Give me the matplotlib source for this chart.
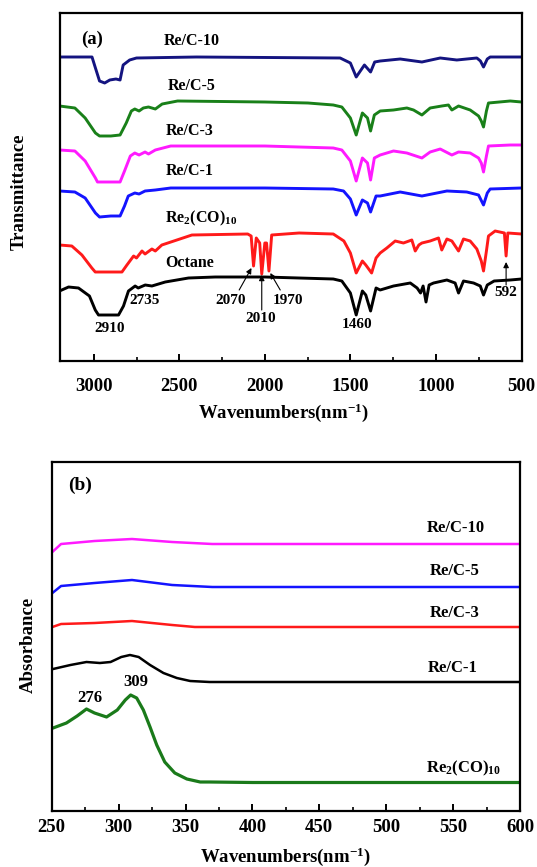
import matplotlib.pyplot as plt
from matplotlib.ticker import MultipleLocator

plt.rcParams['font.family'] = ['Liberation Serif', 'DejaVu Serif']
plt.rcParams['font.weight'] = 'bold'
plt.rcParams['mathtext.fontset'] = 'custom'
plt.rcParams['mathtext.rm'] = 'Liberation Serif:bold'
plt.rcParams['mathtext.it'] = 'Liberation Serif:bold'
plt.rcParams['mathtext.bf'] = 'Liberation Serif:bold'

# (a) FT-IR, transmittance in arbitrary units (already stacked)
rec10_wn = [3200, 3010, 2990, 2966, 2936, 2906, 2870, 2846, 2828, 2790, 2750, 2400,
            1560, 1500, 1466, 1418, 1382, 1358, 1326, 1209, 1082, 975, 878, 761, 740,
            722, 700, 683, 500]
rec10_t = [304, 304, 293, 280, 278, 281, 282, 281, 296, 301, 303, 304,
           303, 298, 284, 296, 289, 299, 300, 302, 299, 303, 301, 303, 300,
           294, 302, 304, 304]

rec5_wn = [3200, 3110, 3050, 2990, 2966, 2900, 2846, 2810, 2780, 2760, 2735, 2710, 2680,
           2640, 2600, 2510, 2000, 1748, 1600, 1550, 1500, 1466, 1430, 1400, 1382, 1360,
           1326, 1248, 1170, 1131, 1082, 1034, 966, 927, 907, 868, 800, 751, 735, 722,
           705, 693, 566, 500]
rec5_t = [255, 253, 243, 228, 225, 225, 226, 238, 250, 252, 250, 253, 254,
          252, 257, 260, 259, 258, 256, 254, 243, 226, 248, 243, 230, 246,
          250, 251, 253, 251, 246, 253, 255, 256, 251, 255, 251, 245, 240, 234,
          250, 258, 260, 259]

rec3_wn = [3200, 3110, 3050, 2990, 2978, 2846, 2820, 2786, 2760, 2735, 2700, 2680, 2640,
           2550, 2000, 1600, 1550, 1500, 1466, 1430, 1400, 1382, 1360, 1326, 1248, 1170,
           1082, 1034, 975, 907, 868, 800, 751, 735, 722, 705, 693, 566, 500]
rec3_t = [211, 210, 200, 183, 179, 179, 190, 205, 208, 206, 209, 207, 211,
          215, 215, 213, 211, 200, 180, 203, 198, 181, 203, 206, 210, 208,
          203, 209, 212, 206, 209, 208, 203, 198, 189, 205, 215, 216, 216]

rec1_wn = [3200, 3110, 3050, 2990, 2966, 2900, 2846, 2820, 2798, 2760, 2735, 2700, 2640,
           2550, 2000, 1600, 1540, 1500, 1466, 1430, 1400, 1382, 1350, 1326, 1209, 1082,
           936, 820, 751, 722, 700, 683, 500]
rec1_t = [170, 169, 163, 148, 144, 145, 145, 155, 165, 168, 167, 170, 171,
          173, 173, 172, 170, 162, 146, 161, 158, 149, 165, 165, 169, 165,
          170, 169, 166, 156, 168, 172, 173]

reco_wn = [3200, 3128, 3069, 3011, 2991, 2835, 2806, 2767, 2750, 2718, 2700, 2660, 2640,
           2602, 2426, 2100, 2080, 2066, 2050, 2030, 2018, 2000, 1990, 1976, 1960, 1800,
           1600, 1538, 1500, 1466, 1430, 1410, 1376, 1350, 1326, 1287, 1238, 1190, 1141,
           1121, 1100, 1082, 1034, 985, 966, 936, 907, 868, 839, 800, 761, 735, 722, 705,
           693, 654, 600, 590, 580, 500]
reco_t = [116, 115, 106, 93, 89, 89, 96, 105, 103, 110, 107, 112, 110,
          116, 126, 127, 125, 95, 123, 118, 87, 118, 118, 90, 126, 128,
          127, 120, 108, 88, 100, 96, 88, 103, 108, 113, 120, 118, 121,
          110, 116, 118, 120, 123, 111, 122, 120, 110, 122, 120, 112, 100, 90, 110,
          125, 130, 128, 105, 128, 127]

oct_wn = [3200, 3147, 3089, 3025, 2991, 2972, 2855, 2826, 2797, 2758, 2740, 2699, 2660,
          2582, 2446, 2290, 2000, 1600, 1550, 1500, 1466, 1430, 1410, 1382, 1350, 1326,
          1248, 1150, 1110, 1090, 1075, 1058, 1040, 1014, 936, 888, 868, 839, 780, 741,
          722, 700, 660, 566, 500]
oct_t = [70, 74, 73, 65, 51, 46, 46, 55, 70, 75, 73, 76, 75,
         79, 83, 84, 84, 82, 80, 68, 46, 70, 66, 50, 73, 71,
         75, 78, 73, 68, 75, 59, 76, 78, 81, 78, 68, 80, 78, 75,
         66, 76, 80, 81, 82]

# (b) UV-vis, absorbance in arbitrary units (already stacked)
uv10_nm = [250.5, 257, 282, 310, 340, 370, 600]
uv10_a = [259, 267, 270, 272, 269, 267, 267]
uv5_nm = [250.5, 257, 282, 310, 340, 370, 600]
uv5_a = [218, 225, 228, 231, 226, 224, 224]
uv3_nm = [250.5, 257, 282, 310, 340, 357, 600]
uv3_a = [184, 187, 188, 190, 186, 184, 184]
uv1_nm = [251, 264, 276, 286, 294, 302, 308.5, 315, 323.5, 333.5, 343.5, 353.5, 368, 600]
uv1_a = [142, 146, 149, 148, 149, 154, 156, 154, 146, 138, 133, 130, 129, 129]
uvco_nm = [251, 261, 269, 276, 282, 291, 299, 305, 309, 313.5, 318.5, 323.5, 328.5,
           334.5, 342, 351, 361, 368, 400, 600]
uvco_a = [83, 88, 95, 102, 98, 94, 101, 111, 116, 113, 101, 84, 66, 49, 38, 32, 29,
          29, 28.5, 28.5]

W, H = 537, 867
fig = plt.figure(figsize=(W / 100, H / 100), dpi=100)
fig.patch.set_facecolor('white')

# axes frames in pixels: left, top, right, bottom
fa = (59.5, 13, 521.5, 361)
fb = (51.7, 462, 520, 811)
ax1 = fig.add_axes([fa[0] / W, 1 - fa[3] / H, (fa[2] - fa[0]) / W, (fa[3] - fa[1]) / H])
ax2 = fig.add_axes([fb[0] / W, 1 - fb[3] / H, (fb[2] - fb[0]) / W, (fb[3] - fb[1]) / H])

lw_a = 2.1
ax1.plot(rec10_wn, rec10_t, color='#141480', lw=lw_a)
ax1.plot(rec5_wn, rec5_t, color='#198019', lw=lw_a)
ax1.plot(rec3_wn, rec3_t, color='#ff1aff', lw=lw_a)
ax1.plot(rec1_wn, rec1_t, color='#1414ff', lw=lw_a)
ax1.plot(reco_wn, reco_t, color='#ff1a1a', lw=lw_a)
ax1.plot(oct_wn, oct_t, color='black', lw=lw_a)

ax1.set_xlim(3200, 500)
ax1.set_ylim(0, fa[3] - fa[1])
ax1.xaxis.set_major_locator(MultipleLocator(500))
ax1.xaxis.set_minor_locator(MultipleLocator(250))

fs_lab = 11.5
ax1.text(3010, 322, '(a)', fontsize=13.5, ha='center', va='center')
ax1.text(2426, 320, 'Re/C-10', fontsize=fs_lab, ha='center', va='center')
ax1.text(2426, 275, 'Re/C-5', fontsize=fs_lab, ha='center', va='center')
ax1.text(2440, 230, 'Re/C-3', fontsize=fs_lab, ha='center', va='center')
ax1.text(2440, 190, 'Re/C-1', fontsize=fs_lab, ha='center', va='center')
ax1.text(2370, 143, r'Re$_{2}$(CO)$_{10}$', fontsize=fs_lab, ha='center', va='center')
ax1.text(2440, 98, 'Octane', fontsize=fs_lab, ha='center', va='center')

fs_num = 11
ax1.text(2906, 33, '2910', fontsize=fs_num, ha='center', va='center')
ax1.text(2700, 60, '2735', fontsize=fs_num, ha='center', va='center')
ax1.text(2200, 61, '2070', fontsize=fs_num, ha='center', va='center')
ax1.text(2022, 43, '2010', fontsize=fs_num, ha='center', va='center')
ax1.text(1862, 61, '1970', fontsize=fs_num, ha='center', va='center')
ax1.text(1460, 36, '1460', fontsize=fs_num, ha='center', va='center')
ax1.text(590, 68, '592', fontsize=fs_num, ha='center', va='center')

arrow = dict(arrowstyle='-|>', color='black', lw=0.8, mutation_scale=8,
             shrinkA=0, shrinkB=0)
ax1.annotate('', xy=(2078, 93), xytext=(2150, 71), arrowprops=arrow)
ax1.annotate('', xy=(2018, 86), xytext=(2018, 51), arrowprops=arrow)
ax1.annotate('', xy=(1968, 88), xytext=(1910, 71), arrowprops=arrow)
ax1.annotate('', xy=(590, 99), xytext=(590, 76), arrowprops=arrow)

ax2.plot(uv10_nm, uv10_a, color='#ff1aff', lw=1.8)
ax2.plot(uv5_nm, uv5_a, color='#1414ff', lw=1.8)
ax2.plot(uv3_nm, uv3_a, color='#ff1a1a', lw=1.8)
ax2.plot(uv1_nm, uv1_a, color='black', lw=1.8)
ax2.plot(uvco_nm, uvco_a, color='#1a7a1a', lw=2.3)

ax2.set_xlim(250, 600)
ax2.set_ylim(0, fb[3] - fb[1])
ax2.xaxis.set_major_locator(MultipleLocator(50))
ax2.xaxis.set_minor_locator(MultipleLocator(25))

fs_lab_b = 12
ax2.text(271.5, 326, '(b)', fontsize=14, ha='center', va='center')
ax2.text(552, 283, 'Re/C-10', fontsize=fs_lab_b, ha='center', va='center')
ax2.text(551, 240, 'Re/C-5', fontsize=fs_lab_b, ha='center', va='center')
ax2.text(551, 198, 'Re/C-3', fontsize=fs_lab_b, ha='center', va='center')
ax2.text(550, 143, 'Re/C-1', fontsize=fs_lab_b, ha='center', va='center')
ax2.text(558, 43, r'Re$_{2}$(CO)$_{10}$', fontsize=fs_lab_b, ha='center', va='center')
ax2.text(278.6, 113, '276', fontsize=12, ha='center', va='center')
ax2.text(312.8, 129, '309', fontsize=12, ha='center', va='center')

# axis titles
xlab = r'Wavenumbers(nm$^{-1}$)'
fig.text(283 / W, 1 - 413 / H, xlab, fontsize=13.5, ha='center', va='center')
fig.text(285 / W, 1 - 857 / H, xlab, fontsize=13.5, ha='center', va='center')
fig.text(19 / W, 1 - 192 / H, 'Transmittance', fontsize=13.5, rotation=90,
         ha='center', va='center')
fig.text(28 / W, 1 - 645 / H, 'Absorbance', fontsize=13.5, rotation=90,
         ha='center', va='center')

for ax, pad in ((ax1, 12), (ax2, 6)):
    for s in ax.spines.values():
        s.set_linewidth(1.6)
    ax.set_yticks([])
    ax.tick_params(axis='x', which='major', direction='in', length=5, width=1.4,
                   labelsize=13.5, pad=pad)
    ax.tick_params(axis='x', which='minor', direction='in', length=3, width=1.2)
    for lbl in ax.get_xticklabels():
        lbl.set_fontweight('bold')

fig.savefig('out.png', dpi=100, facecolor='white')
